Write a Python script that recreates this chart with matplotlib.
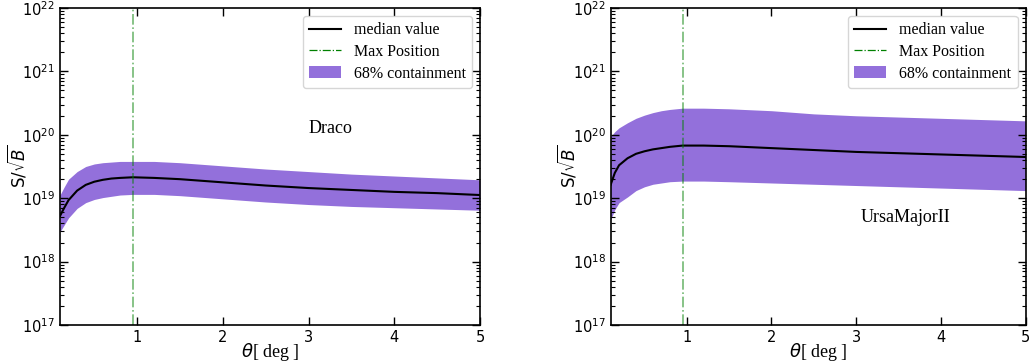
import numpy as np
import matplotlib
matplotlib.use("Agg")
import matplotlib.pyplot as plt
from matplotlib.ticker import LogLocator, NullFormatter

# ---- data (log10 values) ----
theta = [0.1, 0.15, 0.2, 0.3, 0.4, 0.5, 0.6, 0.7, 0.8, 0.95, 1.2, 1.5, 2.0, 2.5, 3.0, 3.5, 4.0, 4.5, 5.0]

draco_med = [18.72, 18.85, 18.97, 19.12, 19.21, 19.26, 19.29, 19.31, 19.32, 19.33, 19.32, 19.30, 19.25, 19.20, 19.16, 19.13, 19.10, 19.08, 19.05]
draco_hi  = [19.05, 19.18, 19.30, 19.42, 19.50, 19.54, 19.56, 19.57, 19.58, 19.58, 19.58, 19.56, 19.51, 19.46, 19.42, 19.38, 19.35, 19.32, 19.29]
draco_lo  = [18.47, 18.58, 18.69, 18.84, 18.93, 18.98, 19.01, 19.03, 19.05, 19.06, 19.06, 19.04, 18.99, 18.94, 18.90, 18.87, 18.85, 18.83, 18.81]

uma_med = [19.21, 19.40, 19.52, 19.63, 19.70, 19.74, 19.77, 19.79, 19.81, 19.83, 19.83, 19.82, 19.79, 19.76, 19.73, 19.71, 19.69, 19.67, 19.65]
uma_hi  = [19.97, 20.05, 20.11, 20.19, 20.26, 20.31, 20.35, 20.38, 20.40, 20.42, 20.42, 20.41, 20.38, 20.33, 20.30, 20.28, 20.26, 20.24, 20.22]
uma_lo  = [18.66, 18.82, 18.93, 19.02, 19.12, 19.18, 19.22, 19.24, 19.26, 19.27, 19.27, 19.26, 19.24, 19.22, 19.20, 19.18, 19.16, 19.14, 19.12]

max_pos = [0.95, 0.95]
names = ["Draco", "UrsaMajorII"]
name_pos = [(3.25, 10**20.1), (3.58, 10**18.7)]

meds = [draco_med, uma_med]
his = [draco_hi, uma_hi]
los = [draco_lo, uma_lo]

fig = plt.figure(figsize=(10.29, 3.64), dpi=100)
W, H = 1029, 364
axes_px = [(60, 480), (610.6, 1025.5)]
top_px, bot_px = 8, 325

serif = "Liberation Serif"

for i in range(2):
    x0, x1 = axes_px[i]
    ax = fig.add_axes([x0 / W, 1 - bot_px / H, (x1 - x0) / W, (bot_px - top_px) / H])
    t = np.array(theta)
    ax.fill_between(t, 10**np.array(los[i]), 10**np.array(his[i]), color="mediumpurple",
                    linewidth=0, label="68% containment")
    ax.plot(t, 10**np.array(meds[i]), color="black", lw=1.5, label="median value")
    ax.axvline(max_pos[i], color="green", ls="-.", lw=1.2, alpha=0.55, label="Max Position")
    ax.set_yscale("log")
    ax.set_xlim(0.1, 5)
    ax.set_ylim(1e17, 1e22)
    ax.set_xticks([1, 2, 3, 4, 5])
    ax.yaxis.set_major_locator(LogLocator(base=10, numticks=10))
    ax.yaxis.set_minor_locator(LogLocator(base=10, subs=np.arange(2, 10), numticks=100))
    ax.yaxis.set_minor_formatter(NullFormatter())
    ax.tick_params(which="both", direction="in", top=True, right=True, labelsize=10.5)
    ax.tick_params(which="major", length=6, width=1)
    ax.tick_params(which="minor", length=3, width=0.8)
    for s in ax.spines.values():
        s.set_linewidth(1.2)
    ax.set_xlabel(r"$\theta$[ deg ]", fontsize=13, family=serif)
    ax.xaxis.set_label_coords(0.5, -0.05)
    ax.set_ylabel(r"S/$\sqrt{B}$", fontsize=12)
    ax.yaxis.set_label_coords((28 - 60) / 420, 0.5)
    ax.text(name_pos[i][0], name_pos[i][1], names[i], fontsize=13, family=serif,
            ha="center", va="center")
    h, l = ax.get_legend_handles_labels()
    order = [1, 2, 0]
    leg = ax.legend([h[k] for k in order], [l[k] for k in order], loc="upper right",
                    prop={"family": serif, "size": 11.5}, handlelength=2.0, borderaxespad=0.5,
                    labelspacing=0.35, handletextpad=0.8)
    leg.get_lines()[1].set_alpha(1.0)
    leg.get_lines()[1].set_linewidth(0.9)

fig.savefig("out.png", dpi=100)
